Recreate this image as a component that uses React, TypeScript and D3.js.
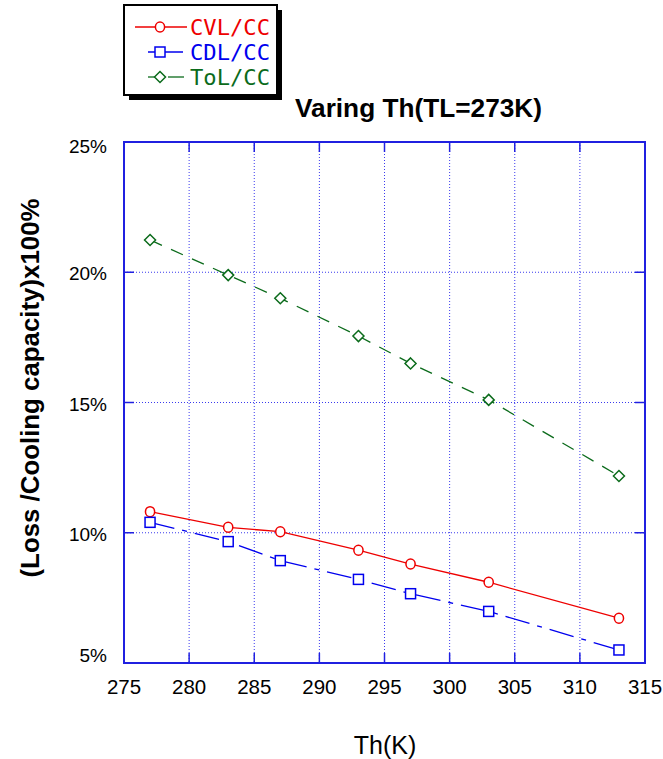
import React from "react";
import * as d3 from "d3";

const thValues = [277, 283, 287, 293, 297, 303, 313];
const cvl = [10.81, 10.21, 10.04, 9.33, 8.8, 8.1, 6.72];
const cdl = [10.4, 9.66, 8.93, 8.21, 7.66, 6.98, 5.5];
const tol = [21.24, 19.89, 19.0, 17.55, 16.5, 15.1, 12.18];
const xTicks = [275, 280, 285, 290, 295, 300, 305, 310, 315];
const yTicks = [5, 10, 15, 20, 25];
const seriesNames = ["CVL/CC", "CDL/CC", "ToL/CC"];

const W = 663, H = 759;
const L = 124, R = 645, T = 142, B = 663;
const AXIS = "#2020e0";

export default function App() {
  const x = d3.scaleLinear().domain([275, 315]).range([L, R]);
  const y = d3.scaleLinear().domain([5, 25]).range([B, T]);
  const line = d3
    .line<[number, number]>()
    .x((d) => x(d[0]))
    .y((d) => y(d[1]));
  const pts = (vals: number[]) => thValues.map((t, i) => [t, vals[i]] as [number, number]);

  const series = [
    { name: seriesNames[0], vals: cvl, color: "#ee0000", dash: "none", marker: "circle" },
    { name: seriesNames[1], vals: cdl, color: "#0000ee", dash: "25,8,5,8", marker: "square" },
    { name: seriesNames[2], vals: tol, color: "#0b6b1b", dash: "13,10", marker: "diamond" },
  ];

  const marker = (kind: string, cx: number, cy: number, color: string, key: any) => {
    if (kind === "circle")
      return <ellipse key={key} cx={cx} cy={cy} rx={4.6} ry={5} fill="white" stroke={color} strokeWidth={1.5} />;
    if (kind === "square")
      return <rect key={key} x={cx - 5} y={cy - 5} width={10} height={10} fill="white" stroke={color} strokeWidth={1.5} />;
    return (
      <path
        key={key}
        d={`M${cx},${cy - 5.5}L${cx + 5.5},${cy}L${cx},${cy + 5.5}L${cx - 5.5},${cy}Z`}
        fill="white"
        stroke={color}
        strokeWidth={1.5}
      />
    );
  };

  const legendY = [27, 52, 77];
  const legendLines = [
    [135, 187],
    [148, 183],
    [148, 184],
  ];
  const yLabelOffset = (t: number) => (t === 25 ? 11 : t === 5 ? -1 : 8);

  return (
    <svg width={W} height={H} style={{ position: "absolute", left: 0, top: 0 }} fontFamily="Liberation Sans, Arial, sans-serif">
      <rect width={W} height={H} fill="white" />
      {/* gridlines */}
      {xTicks.slice(1, -1).map((t) => (
        <line key={"gx" + t} x1={x(t)} x2={x(t)} y1={T} y2={B} stroke="#3a3aee" strokeWidth={1} strokeDasharray="1,2" />
      ))}
      {yTicks.slice(1, -1).map((t) => (
        <line key={"gy" + t} x1={L} x2={R} y1={y(t)} y2={y(t)} stroke="#3a3aee" strokeWidth={1} strokeDasharray="1,2" />
      ))}
      {/* ticks inward */}
      {xTicks.slice(1, -1).map((t) => (
        <g key={"tx" + t}>
          <line x1={x(t)} x2={x(t)} y1={B} y2={B - 10} stroke={AXIS} strokeWidth={1.5} />
          <line x1={x(t)} x2={x(t)} y1={T} y2={T + 10} stroke={AXIS} strokeWidth={1.5} />
        </g>
      ))}
      {yTicks.slice(1, -1).map((t) => (
        <g key={"ty" + t}>
          <line x1={L} x2={L + 10} y1={y(t)} y2={y(t)} stroke={AXIS} strokeWidth={1.5} />
          <line x1={R} x2={R - 10} y1={y(t)} y2={y(t)} stroke={AXIS} strokeWidth={1.5} />
        </g>
      ))}
      <rect x={L} y={T} width={R - L} height={B - T} fill="none" stroke={AXIS} strokeWidth={2} />

      {/* series */}
      {series.map((s) => (
        <g key={s.name}>
          <path d={line(pts(s.vals)) || ""} fill="none" stroke={s.color} strokeWidth={1.3} strokeDasharray={s.dash} />
          {pts(s.vals).map((p, i) => marker(s.marker, x(p[0]), y(p[1]), s.color, i))}
        </g>
      ))}

      {/* tick labels */}
      {xTicks.map((t) => (
        <text key={"lx" + t} x={x(t)} y={694} fontSize={20.5} textAnchor="middle" fill="#000">
          {t}
        </text>
      ))}
      {yTicks.map((t) => (
        <text key={"ly" + t} x={107} y={y(t) + yLabelOffset(t)} fontSize={19} textAnchor="end" fill="#000">
          {t + "%"}
        </text>
      ))}

      {/* axis titles */}
      <text x={385} y={754} fontSize={25} textAnchor="middle" fill="#000">
        Th(K)
      </text>
      <text
        transform={`translate(39,388) rotate(-90)`}
        fontSize={25}
        fontWeight="bold"
        textAnchor="middle"
        textLength={379}
        lengthAdjust="spacingAndGlyphs"
        fill="#000"
      >
        (Loss /Cooling capacity)x100%
      </text>
      <text x={295} y={117} fontSize={25} fontWeight="bold" textLength={247} lengthAdjust="spacingAndGlyphs" fill="#000">
        Varing Th(TL=273K)
      </text>

      {/* legend */}
      <rect x={129} y={10} width={153} height={90} fill="#000" />
      <rect x={124} y={5} width={153} height={90} fill="white" stroke="#000" strokeWidth={2} />
      {series.map((s, i) => (
        <g key={"lg" + i}>
          {i === 2 ? (
            <>
              <line x1={legendLines[i][0]} x2={155} y1={legendY[i]} y2={legendY[i]} stroke={s.color} strokeWidth={1.3} />
              <line x1={168} x2={legendLines[i][1]} y1={legendY[i]} y2={legendY[i]} stroke={s.color} strokeWidth={1.3} />
            </>
          ) : (
            <line x1={legendLines[i][0]} x2={legendLines[i][1]} y1={legendY[i]} y2={legendY[i]} stroke={s.color} strokeWidth={1.3} />
          )}
          {marker(s.marker, 160, legendY[i], s.color, "m" + i)}
          <text
            x={190}
            y={legendY[i] + 8}
            fontSize={22}
            fontFamily="DejaVu Sans Mono, monospace"
            textLength={80}
            lengthAdjust="spacingAndGlyphs"
            fill={s.color}
          >
            {s.name}
          </text>
        </g>
      ))}
    </svg>
  );
}
